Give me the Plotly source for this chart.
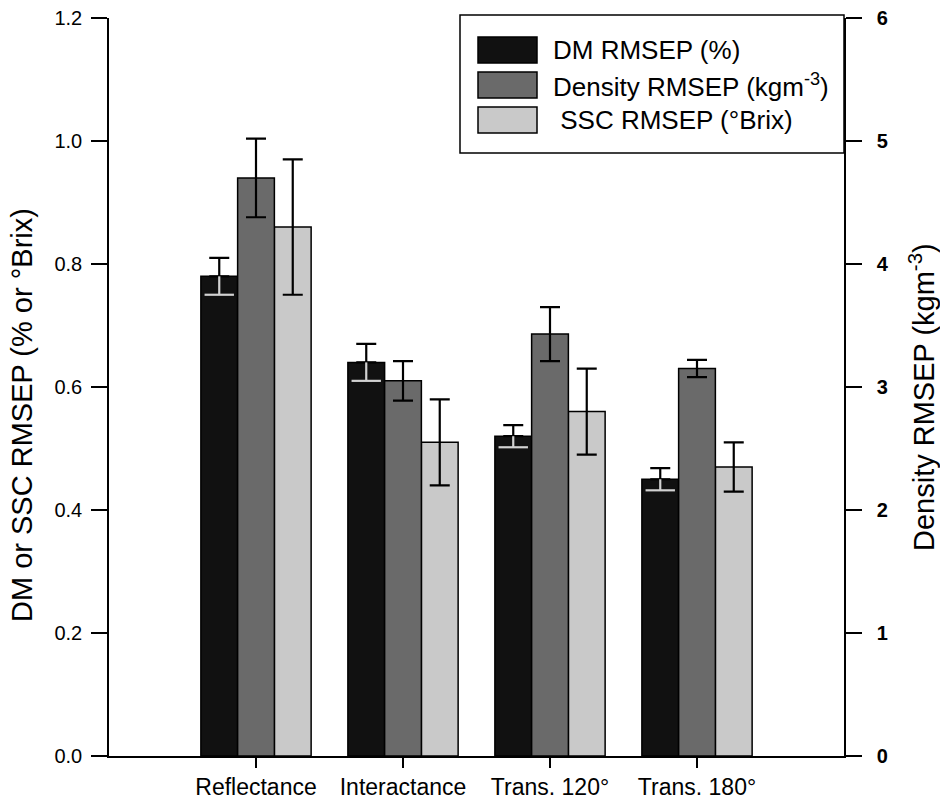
import plotly.graph_objects as go

# ---------------- data ----------------
categories = ["Reflectance", "Interactance", "Trans. 120°", "Trans. 180°"]
cat_pos = [1, 2, 3, 4]

dm_rmsep = [0.78, 0.64, 0.52, 0.45]
dm_err = [0.03, 0.03, 0.018, 0.018]

density_rmsep = [4.70, 3.05, 3.43, 3.15]
density_err = [0.32, 0.16, 0.22, 0.07]

ssc_rmsep = [0.86, 0.51, 0.56, 0.47]
ssc_err = [0.11, 0.07, 0.07, 0.04]

series_names = ["DM RMSEP (%)", "Density RMSEP (kgm<sup>-3</sup>)", "\u00a0SSC RMSEP (°Brix)"]

# ---------------- style ----------------
FONT = "Arial, 'Liberation Sans', Helvetica, sans-serif"
C_DM = "#111111"
C_DEN = "#6a6a6a"
C_SSC = "#c9c9c9"
C_ERR_LIGHT = "#d2d2d2"
BAR_W = 0.25
ERR_T = 2.2
ERR_W = 10

fig = go.Figure()

fig.add_trace(go.Bar(
    x=cat_pos, y=dm_rmsep, width=BAR_W, offset=-1.5 * BAR_W,
    marker=dict(color=C_DM, line=dict(color="black", width=1.5)),
    error_y=dict(type="data", symmetric=False, array=dm_err, arrayminus=[0] * len(dm_err),
                 color="black", thickness=ERR_T, width=ERR_W),
    name=series_names[0], showlegend=False, yaxis="y"))

fig.add_trace(go.Bar(
    x=cat_pos, y=ssc_rmsep, width=BAR_W, offset=0.5 * BAR_W,
    marker=dict(color=C_SSC, line=dict(color="black", width=1.5)),
    error_y=dict(type="data", array=ssc_err, color="black", thickness=ERR_T, width=ERR_W),
    name=series_names[2], showlegend=False, yaxis="y"))

# lower (light) part of the DM error bars, drawn inside the black bars
fig.add_trace(go.Scatter(
    x=[c - BAR_W for c in cat_pos],
    y=[v - e for v, e in zip(dm_rmsep, dm_err)],
    mode="markers",
    marker=dict(symbol="line-ew", size=2 * ERR_W + 1, color=C_ERR_LIGHT,
                line=dict(color=C_ERR_LIGHT, width=ERR_T)),
    error_y=dict(type="data", symmetric=False, array=dm_err, arrayminus=[0] * len(dm_err),
                 color=C_ERR_LIGHT, thickness=ERR_T, width=0),
    showlegend=False, hoverinfo="skip", yaxis="y"))

fig.add_trace(go.Bar(
    x=cat_pos, y=density_rmsep, width=BAR_W, offset=-0.5 * BAR_W,
    marker=dict(color=C_DEN, line=dict(color="black", width=1.5)),
    error_y=dict(type="data", array=density_err, color="black", thickness=ERR_T, width=ERR_W),
    name=series_names[1], showlegend=False, yaxis="y2"))

# ---------------- layout ----------------
L, R, T, B = 109, 96, 18, 48
W, H = 940, 804
pw, ph = W - L - R, H - T - B


def px_x(p):
    return (p - L) / pw


def px_y(p):
    return (H - B - p) / ph


fig.update_layout(
    width=W, height=H,
    margin=dict(l=L, r=R, t=T, b=B, pad=0, autoexpand=False),
    paper_bgcolor="white", plot_bgcolor="white",
    barmode="overlay",
    font=dict(family=FONT, color="black"),
    showlegend=False,
    xaxis=dict(range=[0, 5], tickvals=cat_pos, ticktext=categories,
               showline=True, linecolor="black", linewidth=1.5,
               ticks="outside", ticklen=10, tickwidth=1.5, tickcolor="black",
               showgrid=False, zeroline=False, automargin=False,
               tickfont=dict(size=23, family=FONT, color="black")),
    yaxis=dict(range=[0, 1.2], dtick=0.2, tickformat=".1f",
               showline=True, linecolor="black", linewidth=1.5, mirror="ticks",
               ticks="outside", ticklen=16, tickwidth=1.5, tickcolor="black",
               showgrid=False, zeroline=False, ticklabelstandoff=5, automargin=False,
               tickfont=dict(size=20, family=FONT, color="black")),
    yaxis2=dict(range=[0, 6], dtick=1, overlaying="y", side="right",
                showline=True, linecolor="black", linewidth=1.5,
                ticks="outside", ticklen=16, tickwidth=1.5, tickcolor="black",
                tickprefix="\u00a0\u00a0",
                showgrid=False, zeroline=False, automargin=False,
                tickfont=dict(size=20, family=FONT, color="black", weight="bold")),
)

# axis titles
fig.add_annotation(text="DM or SSC RMSEP (% or °Brix)", textangle=-90,
                   xref="paper", yref="paper", x=px_x(22), y=px_y(415),
                   xanchor="center", yanchor="middle", showarrow=False,
                   font=dict(size=29, family=FONT, color="black"))
fig.add_annotation(text="Density RMSEP (kgm<sup>-3</sup>)", textangle=-90,
                   xref="paper", yref="paper", x=px_x(922), y=px_y(397),
                   xanchor="center", yanchor="middle", showarrow=False,
                   font=dict(size=29, family=FONT, color="black"))

# custom legend box
fig.add_shape(type="rect", xref="paper", yref="paper",
              x0=px_x(460), x1=px_x(844), y0=px_y(153), y1=px_y(15),
              line=dict(color="black", width=1.5), fillcolor="white", layer="above")

swatch_colors = [C_DM, C_DEN, C_SSC]
row_tops = [37, 72, 107]
for name, col, top in zip(series_names, swatch_colors, row_tops):
    fig.add_shape(type="rect", xref="paper", yref="paper",
                  x0=px_x(478), x1=px_x(537), y0=px_y(top + 26), y1=px_y(top),
                  line=dict(color="black", width=1.5), fillcolor=col, layer="above")
    fig.add_annotation(text=name, xref="paper", yref="paper",
                       x=px_x(551), y=px_y(top + 13), xanchor="left", yanchor="middle",
                       showarrow=False, font=dict(size=26, family=FONT, color="black"))

fig.write_html("out.html")
